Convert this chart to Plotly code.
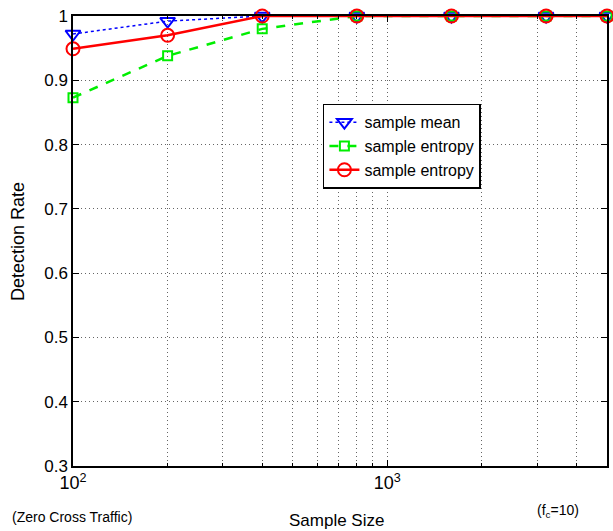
import plotly.graph_objects as go
import numpy as np

sample_size = [100, 200, 400, 800, 1600, 3200, 5000]
mean_rate = [0.972, 0.992, 1.0, 1.0, 1.0, 1.0, 1.0]
entropy_rate_a = [0.873, 0.938, 0.98, 1.0, 1.0, 1.0, 1.0]
entropy_rate_b = [0.949, 0.97, 1.0, 1.0, 1.0, 1.0, 1.0]
y_ticks = [0.3, 0.4, 0.5, 0.6, 0.7, 0.8, 0.9, 1.0]
y_ticktext = ["0.3", "0.4", "0.5", "0.6", "0.7", "0.8", "0.9", "1"]
x_ticks = [100, 1000]
x_ticktext = ["10<sup>2</sup>", "10<sup>3</sup>"]
x_minor = [200, 300, 400, 500, 600, 700, 800, 900, 2000, 3000, 4000, 5000]

FONT = "Liberation Sans, Arial, sans-serif"
GRID = "#666"
DOT = "1px,3px"

fig = go.Figure()
fig.add_trace(go.Scatter(
    x=sample_size, y=mean_rate, name="sample mean", mode="lines+markers",
    line=dict(color="blue", width=1.5, dash="dot"),
    marker=dict(symbol="triangle-down-open", size=13, color="blue", line=dict(width=2)),
    cliponaxis=False))
fig.add_trace(go.Scatter(
    x=sample_size, y=entropy_rate_a, name="sample entropy", mode="lines+markers",
    line=dict(color="#00ee00", width=2.5, dash="dash"),
    marker=dict(symbol="square-open", size=9, color="#00ee00", line=dict(width=2)),
    cliponaxis=False))
fig.add_trace(go.Scatter(
    x=sample_size, y=entropy_rate_b, name="sample entropy", mode="lines+markers",
    line=dict(color="red", width=2.5),
    marker=dict(symbol="circle-open", size=13, color="red", line=dict(width=2)),
    cliponaxis=False))

fig.update_layout(
    width=613, height=531,
    margin=dict(l=73, r=6, t=16, b=65, autoexpand=False),
    paper_bgcolor="white", plot_bgcolor="white",
    font=dict(family=FONT, size=16, color="black"),
    showlegend=True,
    legend=dict(x=0.468, y=0.805, xanchor="left", yanchor="top",
                bordercolor="black", borderwidth=1.5, bgcolor="white",
                font=dict(size=16), tracegroupgap=0, itemwidth=30),
    xaxis=dict(type="log", range=[2, np.log10(5000)], automargin=False,
               tickvals=x_ticks, ticktext=x_ticktext,
               ticks="inside", ticklen=6, tickcolor="black",
               showline=True, linecolor="black", linewidth=1.5, mirror="ticks",
               showgrid=True, gridcolor=GRID, griddash=DOT, gridwidth=1,
               zeroline=False,
               minor=dict(tickvals=x_minor, showgrid=True, gridcolor=GRID,
                          griddash=DOT, ticks="inside", ticklen=3, tickcolor="black"),
               tickfont=dict(size=18)),
    yaxis=dict(range=[0.3, 1.0], tickvals=y_ticks, ticktext=y_ticktext, automargin=False,
               ticks="inside", ticklen=6, tickcolor="black",
               showline=True, linecolor="black", linewidth=1.5, mirror="ticks",
               showgrid=True, gridcolor=GRID, griddash=DOT, gridwidth=1,
               zeroline=False, tickfont=dict(size=17)),
)

fig.add_annotation(text="Detection Rate", x=-0.103, y=0.5, xref="paper", yref="paper",
                   textangle=-90, showarrow=False, font=dict(size=18),
                   xanchor="center", yanchor="middle")
fig.add_annotation(text="Sample Size", x=0.494, y=-0.12, xref="paper", yref="paper",
                   showarrow=False, font=dict(size=17), xanchor="center", yanchor="middle")
fig.add_annotation(text="(Zero Cross Traffic)", x=-0.118, y=-0.113, xref="paper", yref="paper",
                   showarrow=False, font=dict(size=14), xanchor="left", yanchor="middle")
fig.add_annotation(text="(f<sub>c</sub>=10)", x=0.865, y=-0.1, xref="paper", yref="paper",
                   showarrow=False, font=dict(size=14), xanchor="left", yanchor="middle")

fig.write_html("out.html", config={"displayModeBar": False},
               post_script="document.body.style.margin='0';document.body.style.padding='0';")
